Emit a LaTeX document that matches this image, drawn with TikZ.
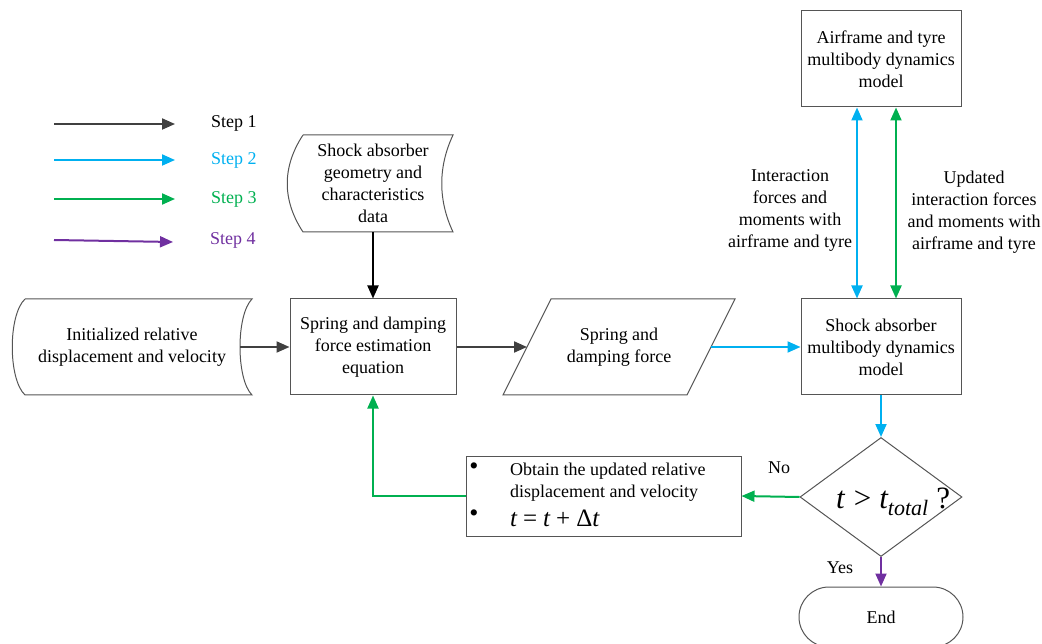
\documentclass[tikz,border=0pt]{standalone}
\usepackage{fontspec}
\setmainfont{Liberation Serif}
\usetikzlibrary{arrows.meta,shapes.geometric,shapes.misc}

\definecolor{stepone}{HTML}{404040}
\definecolor{steptwo}{HTML}{00B0F0}
\definecolor{stepthree}{HTML}{00B050}
\definecolor{stepfour}{HTML}{7030A0}
\definecolor{outline}{HTML}{555555}

\tikzset{
  every node/.style={font=\fontsize{18}{22}\selectfont, align=center, inner sep=0pt},
  tip/.style={-{Triangle[length=13pt,width=11pt]}},
  twotip/.style={{Triangle[length=13pt,width=11pt]}-{Triangle[length=13pt,width=11pt]}},
  flowA/.style={tip, line width=2pt, draw=stepone},
  flowB/.style={tip, line width=2pt, draw=steptwo},
  flowC/.style={tip, line width=2pt, draw=stepthree},
  flowD/.style={tip, line width=2pt, draw=stepfour},
  box/.style={draw=outline, line width=1pt, minimum width=160pt, minimum height=96pt},
  shapeline/.style={draw=outline, line width=1pt},
  legendtext/.style={anchor=west},
  bullet/.style={font=\fontsize{26}{26}\selectfont},
}

\begin{document}
\begin{tikzpicture}[x=1pt,y=-1pt]
\useasboundingbox (0,0) rectangle (1042,644);
\clip (0,0) rectangle (1042,644);

% legend
\coordinate (l1a) at (54,124);  \coordinate (l1b) at (175,124);
\coordinate (l2a) at (54,160);  \coordinate (l2b) at (175,160);
\coordinate (l3a) at (54,199);  \coordinate (l3b) at (175,199);
\coordinate (l4a) at (54,240);  \coordinate (l4b) at (173,242);
\draw[flowA] (l1a) -- (l1b);
\draw[flowB] (l2a) -- (l2b);
\draw[flowC] (l3a) -- (l3b);
\draw[flowD] (l4a) -- (l4b);
\node[legendtext] (s1) at (211,123) {Step 1};
\node[legendtext, text=steptwo] (s2) at (211,160) {Step 2};
\node[legendtext, text=stepthree] (s3) at (211,199) {Step 3};
\node[legendtext, text=stepfour] (s4) at (210,240) {Step 4};

% stored data: shock absorber geometry
\node[minimum width=159pt, minimum height=97pt] (sdata) at (373,183.5)
  {Shock absorber\\geometry and\\characteristics\\data};
\draw[shapeline] (303,135) -- (453,135)
  .. controls (438,167) and (438,200) .. (453,232) -- (303,232)
  .. controls (282,200) and (282,167) .. (303,135);

% stored data: initial state
\node[minimum width=240pt, minimum height=96pt] (init) at (132,347)
  {Initialized relative\\displacement and velocity};
\draw[shapeline] (25,299) -- (252,299)
  .. controls (236,315) and (236,379) .. (252,395) -- (25,395)
  .. controls (8,379) and (8,315) .. (25,299);
\coordinate (init-e) at (240,347);

% process boxes
\node[box, minimum width=166pt] (eq) at (373,347)
  {Spring and damping\\force estimation\\equation};
\node[box] (sam) at (881,347) {Shock absorber\\multibody dynamics\\model};
\node[box] (air) at (881,59) {Airframe and tyre\\multibody dynamics\\model};

% output: spring and damping force
\node (force) at (619,347) {Spring and\\damping force};
\draw[shapeline] (551,299) -- (735,299) -- (687,395) -- (503,395) -- cycle;
\coordinate (force-w) at (527,347);
\coordinate (force-e) at (711,347);

% decision and end
\node[diamond, shapeline, minimum width=162pt, minimum height=119pt] (dec) at (881,497) {};
\node[anchor=base west, font=\fontsize{31}{32}\selectfont] (cond) at (836,508)
  {\itshape t\hspace{9pt}\upshape>\hspace{8pt}\itshape t\raisebox{-7pt}{\fontsize{22}{22}\selectfont total}\upshape\hspace{8pt}?};
\node[rounded rectangle, shapeline, minimum width=164pt, minimum height=60pt] (fin) at (881,617) {End};

% update box
\node[draw=outline, line width=1pt, minimum width=275pt, minimum height=80pt] (upd) at (603.5,496) {};
\node[bullet] (b1) at (474,469) {•};
\node[bullet] (b2) at (474,516) {•};
\node[anchor=west] (u1) at (510,482)
  {\parbox{230pt}{\raggedright Obtain the updated relative\\displacement and velocity}};
\node[anchor=base west, font=\fontsize{25}{26}\selectfont] (u2) at (510,526)
  {\itshape t\hspace{6pt}\upshape=\hspace{6pt}\itshape t\hspace{6pt}\upshape+\hspace{6pt}Δ\itshape t};

% interaction labels
\node (lab1) at (790,210) {Interaction\\forces and\\moments with\\airframe and tyre};
\node (lab2) at (974,212) {Updated\\interaction forces\\and moments with\\airframe and tyre};

% connectors
\draw[flowA, draw=black] (sdata.south) -- (eq.north);
\draw[flowA] (init-e) -- (eq.west);
\draw[flowA] (eq.east) -- (force-w);
\draw[flowB] (force-e) -- (sam.west);
\draw[twotip, line width=2pt, draw=steptwo] ([xshift=-24pt]air.south) -- ([xshift=-24pt]sam.north);
\draw[twotip, line width=2pt, draw=stepthree] ([xshift=15pt]air.south) -- ([xshift=15pt]sam.north);
\draw[flowB] (sam.south) -- (dec.north);
\draw[flowC] (dec.west) -- (upd.east);
\draw[flowC] (upd.west) -| (eq.south);
\draw[flowD] (dec.south) -- (fin.north);

\node (no) at (779,468) {No};
\node (yes) at (840,568) {Yes};
\end{tikzpicture}
\end{document}
